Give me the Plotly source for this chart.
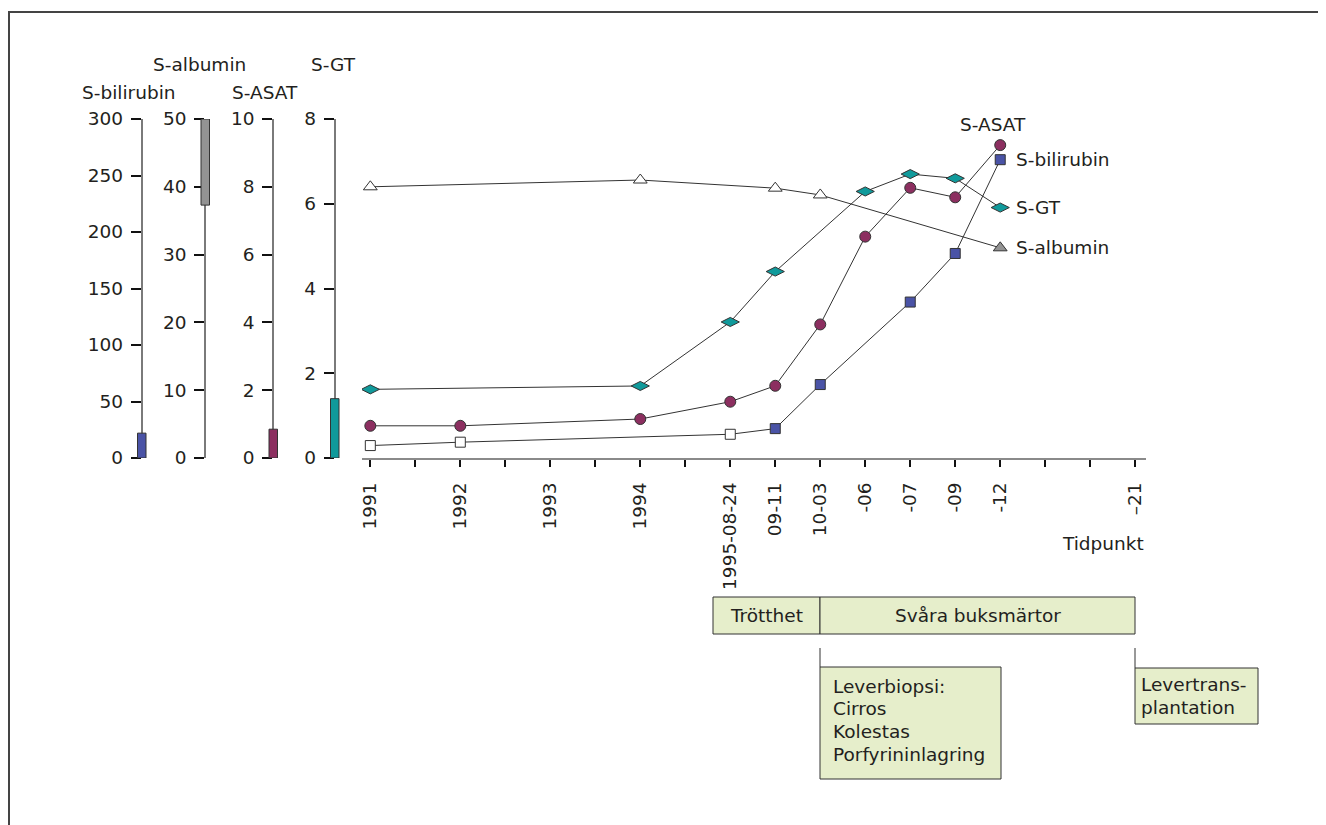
import plotly.graph_objects as go

# ---------------- data ----------------
tick_labels = ["1991", "", "1992", "", "1993", "", "1994", "", "1995-08-24",
               "09-11", "10-03", "-06", "-07", "-09", "-12", "", "", "–21"]

bilirubin_dates = ["1991", "1992", "1995-08-24", "09-11", "10-03", "-07", "-09", "-12"]
bilirubin = [11, 14, 21, 26, 65, 138, 181, 264]

albumin_dates = ["1991", "1994", "09-11", "10-03", "-12"]
albumin = [40, 41, 39.8, 38.8, 31]

asat_dates = ["1991", "1992", "1994", "1995-08-24", "09-11", "10-03", "-06", "-07", "-09", "-12"]
asat = [0.95, 0.95, 1.15, 1.66, 2.13, 3.94, 6.53, 7.97, 7.69, 9.23]

gt_dates = ["1991", "1994", "1995-08-24", "09-11", "-06", "-07", "-09", "-12"]
gt = [1.62, 1.70, 3.21, 4.40, 6.29, 6.70, 6.60, 5.91]

# reference (normal) ranges
bilirubin_normal = [0, 22]
albumin_normal = [37.3, 50]
asat_normal = [0, 0.85]
gt_normal = [0, 1.4]

# axis ranges
bilirubin_range = [0, 300]
albumin_range = [0, 50]
asat_range = [0, 10]
gt_range = [0, 8]

# ---------------- layout helpers ----------------
OFF = 8  # browser body margin
W, H = 1326 - OFF, 825 - OFF
M_L, M_R, M_T, M_B = 0, 180, 119 - OFF, 367
PW = W - M_L - M_R
PH = H - M_T - M_B
Y0 = 458  # page row of value 0


def px(x):
    return (x - OFF - M_L) / PW


def py(y):
    return (Y0 - y) / PH


FONT = "DejaVu Sans, Verdana, sans-serif"
FS = 18.5
TXT = "#231f20"
LINE = "#333333"

pos_index = {lab: i for i, lab in enumerate(tick_labels) if lab}


def xs(dates):
    return [pos_index[d] for d in dates]


def colors(vals, normal, col):
    return ["white" if normal[0] <= v <= normal[1] else col for v in vals]


BLUE = "#4a53a6"
GRAY = "#939393"
MAROON = "#8c2f60"
TEAL = "#109a9b"

fig = go.Figure()

fig.add_trace(go.Scatter(
    x=xs(albumin_dates), y=albumin, yaxis="y3", mode="lines+markers",
    line=dict(color=LINE, width=1),
    marker=dict(symbol="triangle-up", size=12, color=colors(albumin, albumin_normal, GRAY),
                line=dict(color=LINE, width=1)),
    showlegend=False, hoverinfo="skip"))

fig.add_trace(go.Scatter(
    x=xs(gt_dates), y=gt, yaxis="y", mode="lines+markers",
    line=dict(color=LINE, width=1),
    marker=dict(symbol="diamond-wide", size=13, color=colors(gt, gt_normal, TEAL),
                line=dict(color=LINE, width=1)),
    showlegend=False, hoverinfo="skip"))

fig.add_trace(go.Scatter(
    x=xs(asat_dates), y=asat, yaxis="y4", mode="lines+markers",
    line=dict(color=LINE, width=1),
    marker=dict(symbol="circle", size=11, color=colors(asat, asat_normal, MAROON),
                line=dict(color=LINE, width=1)),
    showlegend=False, hoverinfo="skip"))

fig.add_trace(go.Scatter(
    x=xs(bilirubin_dates), y=bilirubin, yaxis="y2", mode="lines+markers",
    line=dict(color=LINE, width=1),
    marker=dict(symbol="square", size=10, color=colors(bilirubin, bilirubin_normal, BLUE),
                line=dict(color=LINE, width=1)),
    showlegend=False, hoverinfo="skip"))

# axis positions (page pixels)
AX_BILI, AX_ALB, AX_ASAT, AX_GT = 141.5, 205, 273, 334.5


def yax(rng, dtick, pos, overlay=True):
    d = dict(range=rng, dtick=dtick, tick0=0, anchor="free", position=px(pos),
             side="left", showgrid=False, zeroline=False,
             showline=True, linecolor="#7a7a7a", linewidth=1.5,
             ticks="outside", ticklen=10, tickwidth=2, tickcolor="#111111",
             ticklabelstandoff=4,
             tickfont=dict(family=FONT, size=FS, color=TXT), automargin=False,
             domain=[0, 1])
    if overlay:
        d["overlaying"] = "y"
    return d


fig.update_layout(
    width=W, height=H,
    margin=dict(l=M_L, r=M_R, t=M_T, b=M_B),
    paper_bgcolor="white", plot_bgcolor="white",
    xaxis=dict(range=[-0.185, 17.24], domain=[px(362), 1], anchor="y",
               tickvals=list(range(len(tick_labels))), ticktext=tick_labels,
               tickangle=-90, showgrid=False, zeroline=False,
               showline=True, linecolor="#8a8a8a", linewidth=2,
               ticks="outside", ticklen=7, tickwidth=2, tickcolor="#111111",
               ticklabelstandoff=8,
               tickfont=dict(family=FONT, size=FS, color=TXT), automargin=False),
    yaxis=yax(gt_range, 2, AX_GT, overlay=False),
    yaxis2=yax(bilirubin_range, 50, AX_BILI),
    yaxis3=yax(albumin_range, 10, AX_ALB),
    yaxis4=yax(asat_range, 2, AX_ASAT),
)

shapes = []
# normal-range bars at the base of each axis
for ax_ref, ax_px, rng, col in [("y2", AX_BILI, bilirubin_normal, BLUE),
                                ("y3", AX_ALB, albumin_normal, GRAY),
                                ("y4", AX_ASAT, asat_normal, MAROON),
                                ("y", AX_GT, gt_normal, TEAL)]:
    shapes.append(dict(type="rect", xref="paper", yref=ax_ref,
                       x0=px(ax_px - 4), x1=px(ax_px + 4.5), y0=rng[0], y1=rng[1],
                       fillcolor=col, line=dict(color="#333333", width=1), layer="above"))

# outer frame (left and top edges)
shapes.append(dict(type="line", xref="paper", yref="paper", x0=px(9), x1=px(9),
                   y0=py(12), y1=py(830), line=dict(color="#444444", width=2)))
shapes.append(dict(type="line", xref="paper", yref="paper", x0=px(8), x1=px(1330),
                   y0=py(12), y1=py(12), line=dict(color="#444444", width=2)))

BOX_FILL = "#e6eecb"
BOX_LINE = dict(color="#333333", width=1)
# timeline boxes (page pixel columns / rows)
boxes = [(713, 820, 597, 634), (820, 1135, 597, 634),
         (820, 1001, 667, 779), (1135, 1258, 668, 724)]
for x0, x1, y0, y1 in boxes:
    shapes.append(dict(type="rect", xref="paper", yref="paper",
                       x0=px(x0), x1=px(x1), y0=py(y0), y1=py(y1),
                       fillcolor=BOX_FILL, line=BOX_LINE, layer="above"))
for xl, y0, y1 in [(820, 648, 667), (1135, 648, 668)]:
    shapes.append(dict(type="line", xref="paper", yref="paper",
                       x0=px(xl), x1=px(xl), y0=py(y0), y1=py(y1), line=BOX_LINE))

fig.update_layout(shapes=shapes)

ann = []


def text(t, x, y, xanchor="center", yanchor="middle", align="center"):
    ann.append(dict(text=t, x=x, y=y, xref="paper", yref="paper", xanchor=xanchor,
                    yanchor=yanchor, align=align, showarrow=False,
                    font=dict(family=FONT, size=FS, color=TXT)))


# axis titles
text("S-bilirubin", px(129), py(92))
text("S-albumin", px(199), py(65))
text("S-ASAT", px(264.5), py(92))
text("S-GT", px(333), py(65))

# series labels at the final point
ann.append(dict(text="S-ASAT", x=pos_index[asat_dates[-1]], y=asat[-1], xref="x", yref="y4",
                xanchor="center", yanchor="bottom", yshift=8, xshift=-7, showarrow=False,
                font=dict(family=FONT, size=FS, color=TXT)))
for lab, d, v, yr in [("S-bilirubin", bilirubin_dates[-1], bilirubin[-1], "y2"),
                      ("S-GT", gt_dates[-1], gt[-1], "y"),
                      ("S-albumin", albumin_dates[-1], albumin[-1], "y3")]:
    ann.append(dict(text=lab, x=pos_index[d], y=v, xref="x", yref=yr,
                    xanchor="left", yanchor="middle", xshift=14, showarrow=False,
                    font=dict(family=FONT, size=FS, color=TXT)))

text("Tidpunkt", px(1146), py(543), xanchor="right")
text("Trötthet", px(766.5), py(615.5))
text("Svåra buksmärtor", px(977.5), py(615.5))
for i, line in enumerate(["Leverbiopsi:", "Cirros", "Kolestas", "Porfyrininlagring"]):
    text(line, px(831), py(686 + 22.7 * i), xanchor="left", align="left")
for i, line in enumerate(["Levertrans-", "plantation"]):
    text(line, px(1139), py(684 + 23 * i), xanchor="left", align="left")

fig.update_layout(annotations=ann)

fig.write_html("out.html")
